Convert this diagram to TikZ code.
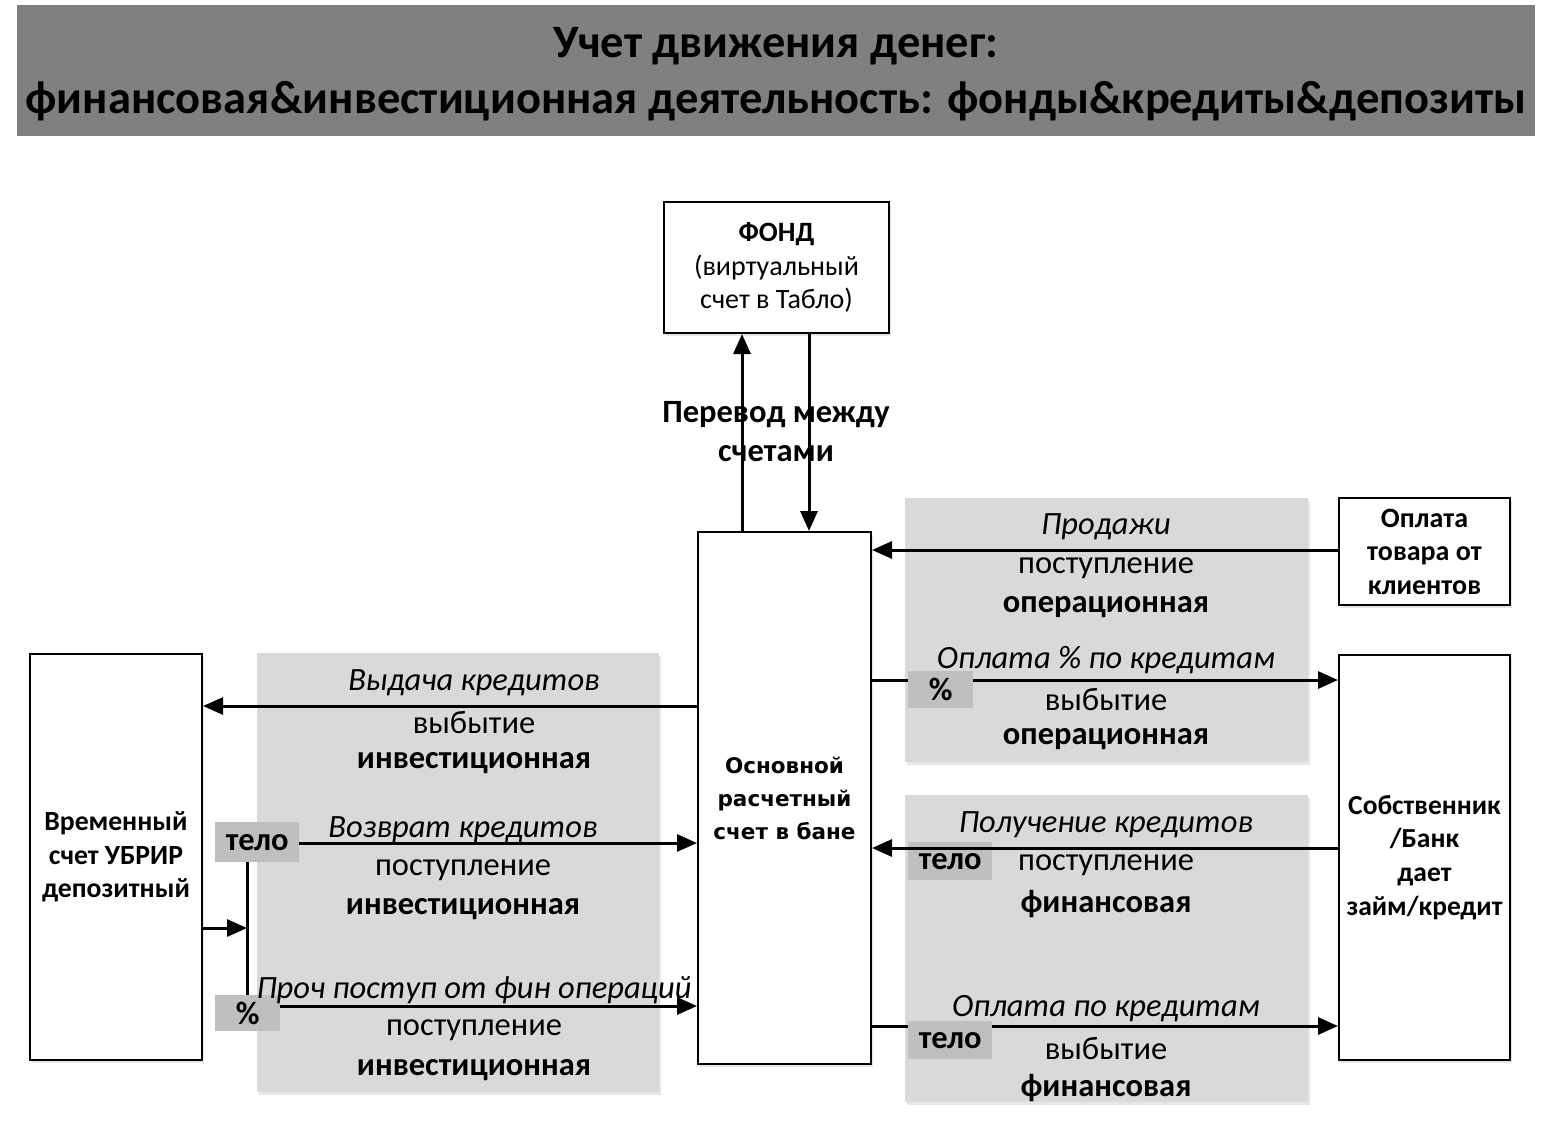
\documentclass[tikz,border=0pt]{standalone}
\usepackage{fontspec}
\setmainfont{Carlito}
\newfontfamily\verd{DejaVu Sans}
\usetikzlibrary{arrows.meta,shadows}
\definecolor{titlegray}{HTML}{808080}
\definecolor{panelgray}{HTML}{D9D9D9}
\definecolor{taggray}{HTML}{BFBFBF}
\newcommand{\fs}[2]{\fontsize{#1}{#2}\selectfont}
\begin{document}
\begin{tikzpicture}[x=1pt,y=-1pt,
  box/.style={draw,line width=2pt,fill=white,anchor=north west,inner sep=0pt,align=center,
    drop shadow={shadow xshift=2pt,shadow yshift=-3pt,fill=blue!20!black!20,opacity=0.5}},
  panel/.style={fill=panelgray,anchor=north west,inner sep=0pt,
    drop shadow={shadow xshift=2pt,shadow yshift=-3pt,fill=blue!20!black!20,opacity=0.5}},
  tag/.style={fill=taggray,anchor=north west,inner sep=0pt,font=\fs{32.5}{34}\bfseries},
  arr/.style={line width=3pt,-{Triangle[length=20pt,width=17pt]}},
  ln/.style={line width=3pt},
  it/.style={font=\fs{32.5}{34}\itshape,inner sep=0pt,yshift=-3pt},
  rg/.style={font=\fs{32.5}{34},inner sep=0pt,yshift=-4pt},
  bd/.style={font=\fs{32.5}{34}\bfseries,inner sep=0pt,yshift=-4pt}]
\useasboundingbox (0,0) rectangle (1552,1120);
\fill[white] (0,0) rectangle (1552,1120);
% title
\node[fill=titlegray,anchor=north west,inner sep=0pt,minimum width=1518pt,minimum height=131pt] (title) at (17,5) {};
\node[font=\fs{46.5}{50}\bfseries,inner sep=0pt] (t1) at (776,46) {Учет движения денег:};
\node[font=\fs{46.5}{50}\bfseries,inner sep=0pt] (t2) at (776,101) {финансовая\&инвестиционная деятельность: фонды\&кредиты\&депозиты};
% panels
\node[panel,minimum width=402pt,minimum height=439pt] (pL) at (257,653) {};
\node[panel,minimum width=403pt,minimum height=264pt] (pR1) at (905,498) {};
\node[panel,minimum width=403pt,minimum height=307pt] (pR2) at (905,795) {};
% boxes
\node[box,minimum width=225pt,minimum height=131pt,font=\fs{28}{33.5}] (fond) at (663,201)
  {\textbf{ФОНД}\\(виртуальный\\счет в Табло)};
\node[box,minimum width=173pt,minimum height=532pt,font=\verd\fs{21.5}{33}\bfseries] (main) at (697,531)
  {Основной\\расчетный\\счет в бане};
\node[box,minimum width=172pt,minimum height=406pt,font=\fs{27.7}{33.5}\bfseries] (tmp) at (29,653)
  {Временный\\счет УБРИР\\депозитный};
\node[box,minimum width=171pt,minimum height=107pt,font=\fs{28}{33.5}\bfseries] (client) at (1338,497)
  {Оплата\\товара от\\клиентов};
\node[box,minimum width=171pt,minimum height=405pt,font=\fs{27.5}{33.7}\bfseries] (owner) at (1338,654)
  {Собственник\\/Банк\\дает\\займ/кредит};
% tags
\node[tag,minimum width=84pt,minimum height=40pt] (tagL1) at (215,822) {тело};
\node[tag,minimum width=65pt,minimum height=36pt] (tagL2) at (215,995) {\%};
\node[tag,minimum width=65pt,minimum height=37pt] (tagR1) at (908,671) {\%};
\node[tag,minimum width=84pt,minimum height=38pt] (tagR2) at (908,842) {тело};
\node[tag,minimum width=84pt,minimum height=38pt] (tagR3) at (908,1021) {тело};
% transfer arrows
\draw[arr] (main.north -| 742,0) -- (fond.south -| 742,0);
\draw[arr] (fond.south -| 809,0) -- (main.north -| 809,0);
\node[font=\fs{32.5}{39}\bfseries,align=center,inner sep=0pt] (perevod) at (776,432) {Перевод между\\счетами};
% left panel
\draw[arr] (main.west |- 0,706) -- (tmp.east |- 0,706);
\node[it] (l1a) at (474,680) {Выдача кредитов};
\node[rg] (l1b) at (474,719) {выбытие};
\node[bd] (l1c) at (474,759) {инвестиционная};
\draw[arr] (tagL1.east |- 0,843) -- (main.west |- 0,843);
\node[it] (l2a) at (463,827) {Возврат кредитов};
\node[rg] (l2b) at (463,866) {поступление};
\node[bd] (l2c) at (463,905) {инвестиционная};
\draw[ln] (tagL1.south -| 247,0) -- (tagL2.north -| 247,0);
\coordinate (junc) at (247,928);
\draw[arr] (tmp.east |- junc) -- (junc);
\draw[arr] (tagL2.east |- 0,1006) -- (main.west |- 0,1006);
\node[it] (l3a) at (474,987) {Проч поступ от фин операций};
\node[rg] (l3b) at (474,1026) {поступление};
\node[bd] (l3c) at (474,1066) {инвестиционная};
% right panels
\draw[arr] (client.west |- 0,550) -- (main.east |- 0,550);
\node[it] (r1a) at (1106,524) {Продажи};
\node[rg] (r1b) at (1106,564) {поступление};
\node[bd] (r1c) at (1106,603) {операционная};
\draw[ln] (main.east |- 0,680) -- (tagR1.west |- 0,680);
\draw[arr] (tagR1.east |- 0,680) -- (owner.west |- 0,680);
\node[it] (r2a) at (1106,657) {Оплата \% по кредитам};
\node[rg] (r2b) at (1106,696) {выбытие};
\node[bd] (r2c) at (1106,735) {операционная};
\draw[arr] (owner.west |- 0,848) -- (main.east |- 0,848);
\node[it] (r3a) at (1106,822) {Получение кредитов};
\node[rg] (r3b) at (1106,861) {поступление};
\node[bd] (r3c) at (1106,900) {финансовая};
\draw[ln] (main.east |- 0,1026) -- (tagR3.west |- 0,1026);
\draw[arr] (tagR3.east |- 0,1026) -- (owner.west |- 0,1026);
\node[it] (r4a) at (1106,1006) {Оплата по кредитам};
\node[rg] (r4b) at (1106,1045) {выбытие};
\node[bd] (r4c) at (1106,1084) {финансовая};
\end{tikzpicture}
\end{document}
